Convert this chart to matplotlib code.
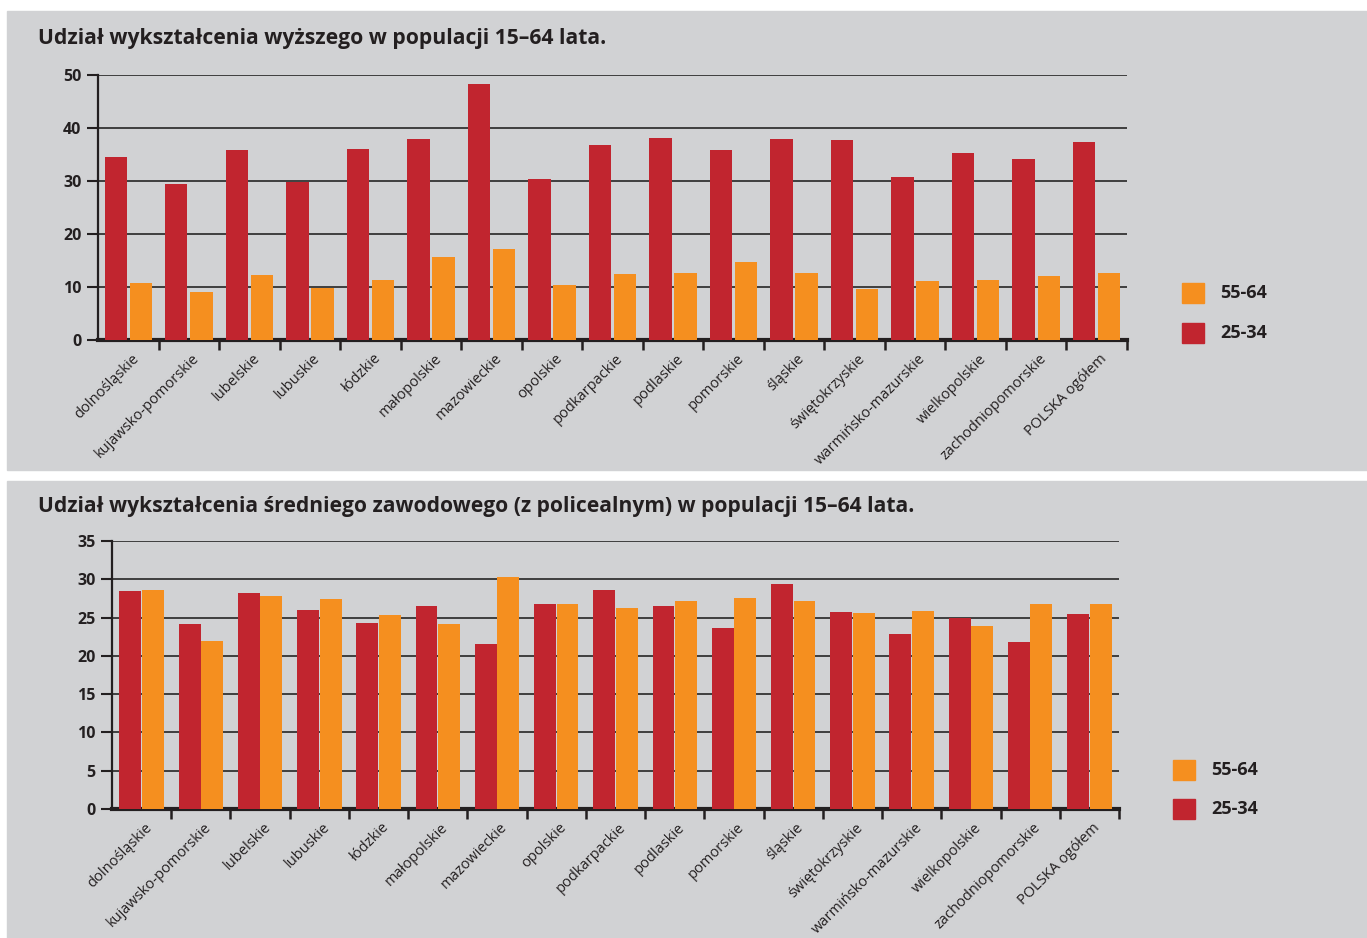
import matplotlib
matplotlib.use("Agg")
import matplotlib.pyplot as plt
from matplotlib.patches import Rectangle
import matplotlib.transforms as mtransforms

plt.rcParams['font.family'] = ['Open Sans', 'DejaVu Sans']

categories = ["dolnośląskie", "kujawsko-pomorskie", "lubelskie", "lubuskie", "łódzkie",
              "małopolskie", "mazowieckie", "opolskie", "podkarpackie", "podlaskie",
              "pomorskie", "śląskie", "świętokrzyskie", "warmińsko-mazurskie",
              "wielkopolskie", "zachodniopomorskie", "POLSKA ogółem"]

title_top = "Udział wykształcenia wyższego w populacji 15–64 lata."
top_25_34 = [34.5, 29.4, 35.8, 29.9, 36.0, 37.9, 48.3, 30.4, 36.8, 38.1,
             35.8, 37.9, 37.7, 30.8, 35.3, 34.2, 37.4]
top_55_64 = [10.8, 9.1, 12.3, 9.9, 11.3, 15.7, 17.2, 10.4, 12.5, 12.6,
             14.7, 12.6, 9.6, 11.1, 11.3, 12.1, 12.6]
top_yticks = [0, 10, 20, 30, 40, 50]

title_bot = "Udział wykształcenia średniego zawodowego (z policealnym) w populacji 15–64 lata."
bot_25_34 = [28.5, 24.2, 28.2, 26.0, 24.3, 26.5, 21.6, 26.8, 28.6, 26.5,
             23.6, 29.4, 25.7, 22.9, 24.9, 21.8, 25.5]
bot_55_64 = [28.6, 22.0, 27.8, 27.4, 25.3, 24.2, 30.3, 26.8, 26.3, 27.1,
             27.6, 27.2, 25.6, 25.9, 23.9, 26.8, 26.8]
bot_yticks = [0, 5, 10, 15, 20, 25, 30, 35]

legend_labels = ["55-64", "25-34"]

RED = "#c1252f"
ORANGE = "#f58f1f"
PANEL = "#d1d2d4"
INK = "#231f20"

W, H = 1367, 938
fig = plt.figure(figsize=(W / 100, H / 100), dpi=100)
fig.patch.set_facecolor("white")


def fx(px):
    return px / W


def fy(py):
    return 1 - py / H


# panels
fig.patches.append(Rectangle((fx(7), fy(470)), fx(W) - fx(7), fy(11) - fy(470),
                             transform=fig.transFigure, color=PANEL, zorder=-10))
fig.patches.append(Rectangle((fx(7), fy(H)), fx(W) - fx(7), fy(481) - fy(H),
                             transform=fig.transFigure, color=PANEL, zorder=-10))


def make_chart(box, title, title_y, title_size, v_red, v_orange, yticks, offs, legend_pos):
    l, t, r, b = box
    ax = fig.add_axes([fx(l), fy(b), fx(r) - fx(l), fy(t) - fy(b)])
    ax.set_zorder(1)
    ax.set_facecolor("none")
    n = len(categories)
    xs = list(range(n))
    width = 0.37
    ax.bar([x - offs for x in xs], v_red, width=width, color=RED, zorder=3)
    ax.bar([x + offs for x in xs], v_orange, width=width, color=ORANGE, zorder=3)
    ax.set_xlim(-0.5, n - 0.5)
    ax.set_ylim(yticks[0], yticks[-1])
    ax.set_yticks(yticks)
    ax.set_yticklabels([str(v) for v in yticks], fontsize=11.5, fontweight="bold", color=INK)
    ax.grid(axis="y", color="#333333", linewidth=1.3, zorder=1)
    ax.set_axisbelow(True)
    for s in ("top", "right"):
        ax.spines[s].set_visible(False)
    ax.spines["left"].set_linewidth(1.6)
    ax.spines["left"].set_color(INK)
    ax.spines["bottom"].set_linewidth(3)
    ax.spines["bottom"].set_color(INK)
    ax.tick_params(axis="y", length=8, width=1.5, color=INK, pad=4)
    # boundaries ticks
    ax.set_xticks([x + 0.5 for x in xs])
    ax.set_xticklabels([])
    ax.tick_params(axis="x", which="major", length=7, width=1.8, color=INK, direction="out")
    ax.set_xticks(xs, minor=True)
    ax.set_xticklabels(categories, minor=True, rotation=45, ha="right",
                       rotation_mode="anchor", fontsize=10.5, color=INK)
    ax.tick_params(axis="x", which="minor", length=0, pad=8)
    offset = mtransforms.ScaledTranslation(3 / 100, 0, fig.dpi_scale_trans)
    for lab in ax.get_xticklabels(minor=True):
        lab.set_transform(lab.get_transform() + offset)
    fig.text(fx(38), fy(title_y), title, fontsize=title_size, fontweight="bold",
             color=INK, va="baseline", ha="left")
    # legend
    lx, ly1, ly2 = legend_pos
    for (lyc, col, lab) in ((ly1, ORANGE, legend_labels[0]), (ly2, RED, legend_labels[1])):
        fig.patches.append(Rectangle((fx(lx), fy(lyc + 10)), fx(22), fy(0) - fy(20),
                                     transform=fig.transFigure, color=col, zorder=2))
        fig.text(fx(lx + 38), fy(lyc), lab, fontsize=13, fontweight="bold",
                 color=INK, va="center", ha="left")
    return ax


make_chart((98, 75, 1127, 340), title_top, 44, 15.2, top_25_34, top_55_64, top_yticks, 0.207,
           (1182, 293, 333))
make_chart((112, 541, 1119, 809), title_bot, 512, 15.1, bot_25_34, bot_55_64, bot_yticks, 0.19,
           (1173, 770, 809))

fig.savefig("out.png", dpi=100, facecolor=fig.get_facecolor())
